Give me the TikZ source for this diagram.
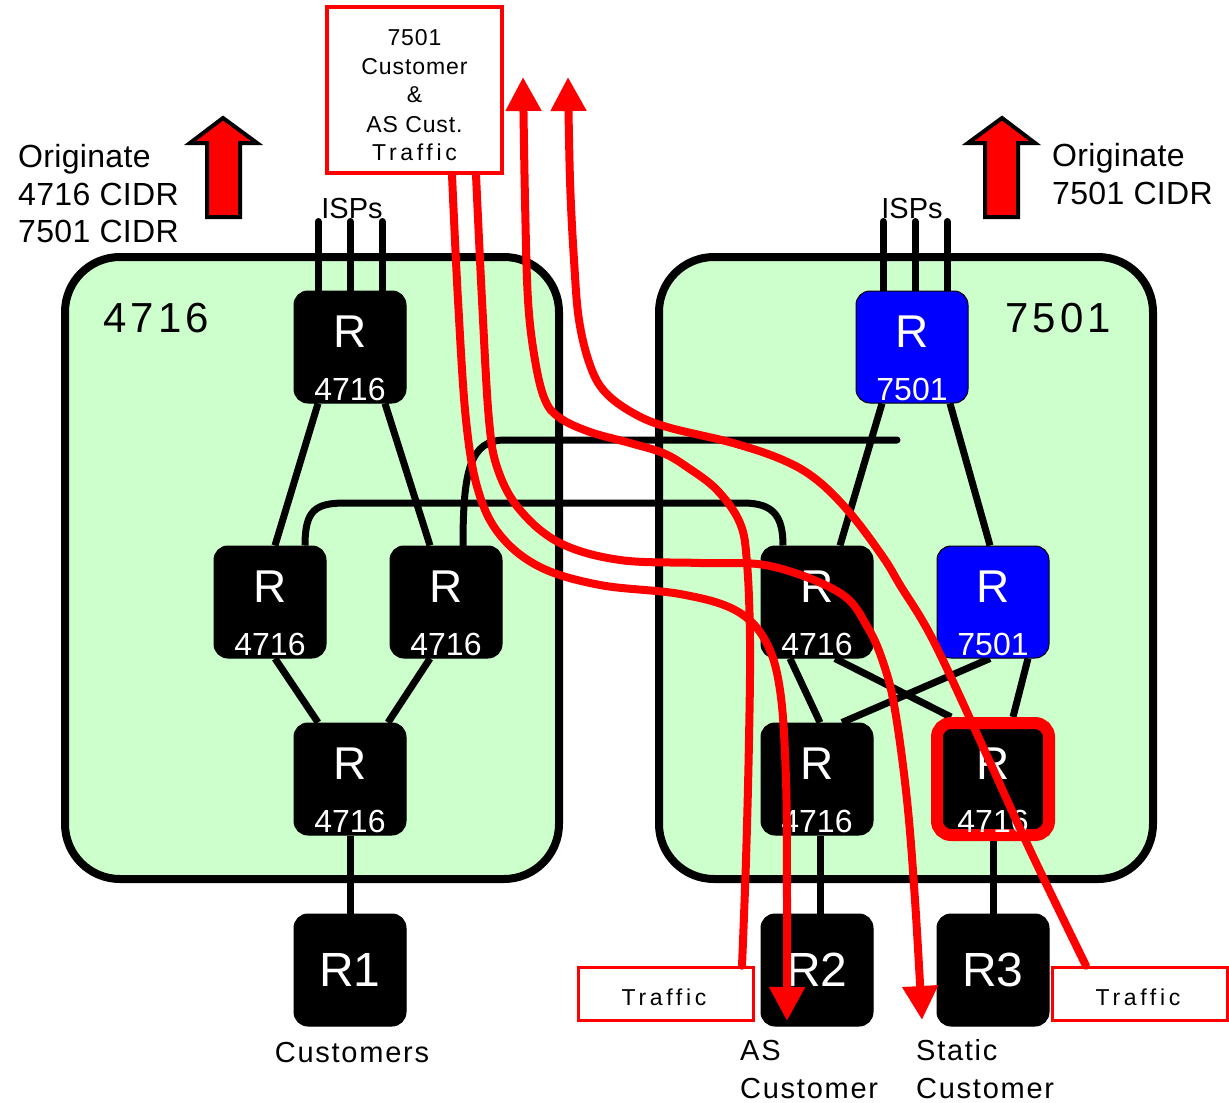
\documentclass[tikz,border=0pt]{standalone}
\usepackage{fontspec}
\setmainfont{Liberation Sans}
\usetikzlibrary{arrows.meta}
\definecolor{asgreen}{RGB}{204,255,204}
\definecolor{rblue}{RGB}{0,0,255}
\definecolor{rred}{RGB}{255,0,0}
\newcommand\myfs[2]{\fontsize{#1}{#1}\selectfont\addfontfeatures{LetterSpace=#2}}
\newcommand\wideword[1]{{\addfontfeatures{LetterSpace=16}#1}}
\pgfdeclarelayer{bg}
\pgfsetlayers{bg,main}
\begin{document}
\begin{tikzpicture}[x=1pt,y=-1pt,
  asbox/.style={draw=black, line width=8, fill=asgreen, rounded corners=55, minimum width=494, minimum height=622, inner sep=0},
  router/.style={draw=black, line width=1, fill=black, rounded corners=14, minimum width=112, minimum height=112, inner sep=0},
  bluerouter/.style={router, fill=rblue},
  hilite/.style={router, draw=rred, line width=12},
  link/.style={line width=7, draw=black},
  isp/.style={line width=7, draw=black, line cap=round},
  redpath/.style={line width=8, draw=rred, line cap=round, line join=round},
  tip/.style={-{Triangle[length=34pt,width=34pt]}},
  redbox/.style={draw=rred, line width=3.5, fill=white, inner sep=0},
  blockarrow/.style={draw=black, line width=4, fill=rred, line join=miter},
  rlet/.style={text=white, font=\myfs{46}{0}, inner sep=0, anchor=base},
  rnum/.style={text=white, font=\myfs{32}{0}, inner sep=0, anchor=base},
  rbig/.style={text=white, font=\myfs{48}{0}, inner sep=0, anchor=base},
  biglbl/.style={font=\myfs{32}{1}, inner sep=0, anchor=base west},
  boxlbl/.style={font=\myfs{42}{10}, inner sep=0, anchor=base west},
  midlbl/.style={font=\myfs{29}{6}, inner sep=0},
  isplbl/.style={font=\myfs{29}{0}, inner sep=0, anchor=base},
  smalllbl/.style={font=\myfs{23}{4}, inner sep=0, anchor=base}
]
\begin{pgfonlayer}{bg}
\fill[white] (0,0) rectangle (1229,1103);
\node[asbox] (as1) at (312,568) {};
\node[asbox] (as2) at (906,568) {};
\end{pgfonlayer}
\useasboundingbox (0,0) rectangle (1229,1103);

% routers AS 4716
\node[router] (lt)  at (350,347) {};
\node[router] (lml) at (270,602) {};
\node[router] (lmr) at (446,602) {};
\node[router] (lb)  at (350,779) {};
\node[router] (r1)  at (350,970) {};
% routers AS 7501
\node[bluerouter] (rt)  at (912,347) {};
\node[router]     (rml) at (817,602) {};
\node[bluerouter] (rmr) at (993,602) {};
\node[router]     (rbl) at (817,779) {};
\node[hilite]     (rbr) at (993,779) {};
\node[router]     (r2)  at (817,970) {};
\node[router]     (r3)  at (993,970) {};

\coordinate (bend) at (897,440);

\begin{pgfonlayer}{bg}
% inter-AS lines
\draw[link, line cap=round] ([xshift=17]lmr.north) .. controls +(0,-75) and +(-35,0) .. (505,440) -- (bend);
\draw[link] ([xshift=35]lml.north) .. controls +(0,-35) and +(-30,0) .. (345,503) -- (743,503) .. controls +(30,0) and +(0,-30) .. ([xshift=-34]rml.north);
% ISP lines
\draw[isp] ([xshift=-32]lt.north) -- ++(0,-69);
\draw[isp] (lt.north) -- ++(0,-69);
\draw[isp] ([xshift=32]lt.north) -- ++(0,-69);
\draw[isp] ([xshift=-29]rt.north) -- ++(0,-69);
\draw[isp] ([xshift=3]rt.north) -- ++(0,-69);
\draw[isp] ([xshift=35]rt.north) -- ++(0,-69);
% links left
\draw[link] ([xshift=-32]lt.south) -- ([xshift=5]lml.north);
\draw[link] ([xshift=35]lt.south) -- ([xshift=-16]lmr.north);
\draw[link] ([xshift=5]lml.south) -- ([xshift=-32]lb.north);
\draw[link] ([xshift=-16]lmr.south) -- ([xshift=38]lb.north);
\draw[link] (lb.south) -- (r1.north);
% links right
\draw[link] ([xshift=-30]rt.south) -- ([xshift=23]rml.north);
\draw[link] ([xshift=38]rt.south) -- ([xshift=-3]rmr.north);
\draw[link] ([xshift=-27]rml.south) -- ([xshift=3]rbl.north);
\draw[link] ([xshift=18]rml.south) -- ([xshift=-42]rbr.north);
\draw[link] ([xshift=-3]rmr.south) -- ([xshift=25]rbl.north);
\draw[link] ([xshift=35]rmr.south) -- ([xshift=20]rbr.north);
\draw[link] ([xshift=3]rbl.south) -- ([xshift=3]r2.north);
\draw[link] (rbr.south) -- (r3.north);
\end{pgfonlayer}

% router labels
\foreach \n/\num in {lt/4716, lml/4716, lmr/4716, lb/4716, rt/7501, rml/4716, rmr/7501, rbl/4716, rbr/4716}{
  \node[rlet] at ([yshift=0]\n.center) {R};
  \node[rnum] at ([yshift=-53]\n.center) {\num};
}
\node[rbig] at ([yshift=-16]r1.center) {R1};
\node[rbig] at ([yshift=-16]r2.center) {R2};
\node[rbig] at ([yshift=-16]r3.center) {R3};

% AS labels
\node[boxlbl] at (103,332) {4716};
\node[boxlbl] at (1005,332) {7501};

% ISPs
\node[isplbl] at (352,218) {ISPs};
\node[isplbl] at (912,218) {ISPs};

% originate labels
\node[biglbl] at (18,167) {Originate};
\node[biglbl] at (18,205) {4716 CIDR};
\node[biglbl] at (18,242) {7501 CIDR};
\node[biglbl] at (1052,166) {Originate};
\node[biglbl] at (1052,204) {7501 CIDR};

% block arrows
\draw[blockarrow] (207,217) -- (207,143) -- (190,143) -- (223,118) -- (257,143) -- (240,143) -- (240,217) -- cycle;
\draw[blockarrow] (985,217) -- (985,143) -- (968,143) -- (1002,118) -- (1035,143) -- (1018,143) -- (1018,217) -- cycle;

% bottom labels
\node[midlbl, anchor=base] at (352,1062) {Customers};
\node[midlbl, anchor=base west] at (740,1060) {AS};
\node[midlbl, anchor=base west] at (740,1098) {Customer};
\node[midlbl, anchor=base west] at (916,1060) {Static};
\node[midlbl, anchor=base west] at (916,1098) {Customer};

% red boxes
\node[redbox, minimum width=175, minimum height=166] (tb) at (414.5,90) {};
\foreach \t/\yy in {7501/45, Customer/74, \&/102, AS Cust./132, \wideword{Traffic}/160}{
  \node[smalllbl] at (414.5,\yy) {\t};
}
\node[redbox, minimum width=175, minimum height=53] (tl) at (666,994) {};
\node[redbox, minimum width=175, minimum height=53] (tr) at (1140,994) {};
\node[smalllbl] at (664,1005) {\wideword{Traffic}};
\node[smalllbl] at (1138,1005) {\wideword{Traffic}};

\coordinate (c1s) at ([xshift=37.5]tb.south);
\coordinate (c2s) at ([xshift=61.5]tb.south);
\coordinate (c3s) at ([xshift=76]tl.north);
\coordinate (c4s) at ([xshift=-54]tr.north);

% red traffic paths
\draw[redpath, tip] plot[smooth, tension=0.6] coordinates {(c1s) (458,300) (466,420) (478,490) (500,535) (540,567) (600,585) (680,594) (735,610) (765,640) (780,690) (786,780) (787,900) (787,1021)};
\draw[redpath, tip] plot[smooth, tension=0.6] coordinates {(c2s) (482,300) (489,420) (498,470) (520,510) (560,543) (620,560) (700,563) (770,566) (840,593) (868,628) (884,665) (895,710) (907,800) (915,900) (922,1020)};
\draw[redpath, tip] plot[smooth, tension=0.6] coordinates {(c3s) (746,860) (749,740) (750,640) (747,563) (740,523) (717,490) (687,467) (663,453) (630,443) (590,432) (560,418) (545,400) (535,360) (528,300) (525,200) (523,77)};
\draw[redpath, tip] plot[smooth, tension=0.6] coordinates {(c4s) (1030,850) (983,747) (933,640) (900,585) (883,557) (850,513) (817,480) (783,460) (733,443) (667,427) (633,413) (605,392) (590,365) (579,320) (574,260) (570,180) (568,77)};
\end{tikzpicture}
\end{document}
